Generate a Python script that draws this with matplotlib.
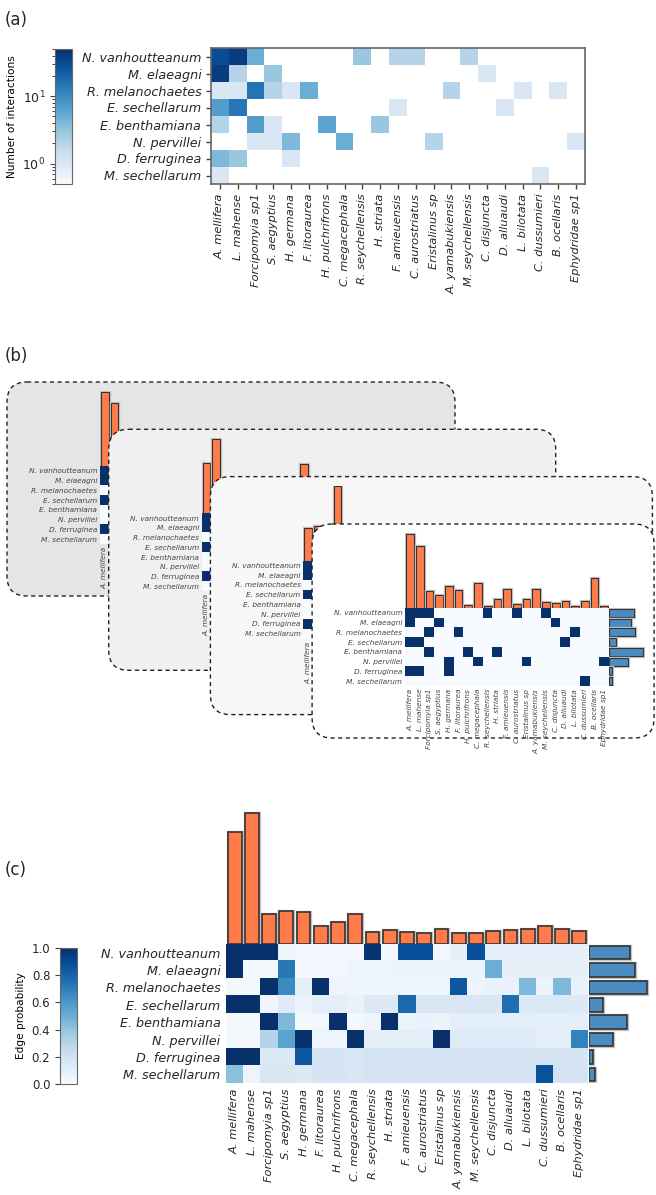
import numpy as np
import matplotlib
matplotlib.use("Agg")
import matplotlib.pyplot as plt
from matplotlib.colors import LogNorm, Normalize
from matplotlib.cm import ScalarMappable
from matplotlib.patches import FancyBboxPatch
import matplotlib.patheffects as pe

plants = ["N. vanhoutteanum", "M. elaeagni", "R. melanochaetes", "E. sechellarum",
          "E. benthamiana", "N. pervillei", "D. ferruginea", "M. sechellarum"]
pollinators = ["A. mellifera", "L. mahense", "Forcipomyia sp1", "S. aegyptius", "H. germana",
               "F. litoraurea", "H. pulchrifrons", "C. megacephala", "R. seychellensis", "H. striata",
               "F. amieuensis", "C. aurostriatus", "Eristalinus sp", "A. yamabukiensis",
               "M. seychellensis", "C. disjuncta", "D. alluaudi", "L. bilotata", "C. dussumieri",
               "B. ocellaris", "Ephydridae sp1"]

# (a) observed interaction counts (0 = no interaction)
counts = [
    [30, 40, 5, 0, 0, 0, 0, 0, 3, 0, 2, 2, 0, 0, 2, 0, 0, 0, 0, 0, 0],
    [40, 2, 0, 3, 0, 0, 0, 0, 0, 0, 0, 0, 0, 0, 0, 1, 0, 0, 0, 0, 0],
    [1, 1, 15, 2, 1, 5, 0, 0, 0, 0, 0, 0, 0, 2, 0, 0, 0, 1, 0, 1, 0],
    [7, 14, 0, 0, 0, 0, 0, 0, 0, 0, 1, 0, 0, 0, 0, 0, 1, 0, 0, 0, 0],
    [2, 0, 7, 1, 0, 0, 6, 0, 0, 3, 0, 0, 0, 0, 0, 0, 0, 0, 0, 0, 0],
    [0, 0, 1, 1, 4, 0, 0, 5, 0, 0, 0, 0, 2, 0, 0, 0, 0, 0, 0, 0, 1],
    [4, 3, 0, 0, 1, 0, 0, 0, 0, 0, 0, 0, 0, 0, 0, 0, 0, 0, 0, 0, 0],
    [1, 0, 0, 0, 0, 0, 0, 0, 0, 0, 0, 0, 0, 0, 0, 0, 0, 0, 1, 0, 0],
]

# (b) sampled networks: one adjacency shown in every card, bar heights per card
sample_adj = [
    [1, 1, 1, 0, 0, 0, 0, 0, 1, 0, 0, 1, 0, 0, 1, 0, 0, 0, 0, 0, 0],
    [1, 0, 0, 1, 0, 0, 0, 0, 0, 0, 0, 0, 0, 0, 0, 1, 0, 0, 0, 0, 0],
    [0, 0, 1, 0, 0, 1, 0, 0, 0, 0, 0, 0, 0, 0, 0, 0, 0, 1, 0, 0, 0],
    [1, 1, 0, 0, 0, 0, 0, 0, 0, 0, 0, 0, 0, 0, 0, 0, 1, 0, 0, 0, 0],
    [0, 0, 1, 0, 0, 0, 1, 0, 0, 1, 0, 0, 0, 0, 0, 0, 0, 0, 0, 0, 0],
    [0, 0, 0, 0, 1, 0, 0, 1, 0, 0, 0, 0, 1, 0, 0, 0, 0, 0, 0, 0, 1],
    [1, 1, 0, 0, 1, 0, 0, 0, 0, 0, 0, 0, 0, 0, 0, 0, 0, 0, 0, 0, 0],
    [0, 0, 0, 0, 0, 0, 0, 0, 0, 0, 0, 0, 0, 0, 0, 0, 0, 0, 1, 0, 0],
]
sample_top = [
    [74, 63, 20, 15, 24, 19, 6, 28, 8, 12, 30, 6, 10, 22, 9, 5, 8, 3, 9, 26, 4],
    [50, 74, 18, 14, 22, 17, 4, 27, 6, 10, 49, 5, 9, 20, 8, 6, 7, 2, 8, 28, 3],
    [33, 35, 12, 75, 20, 16, 3, 24, 4, 9, 22, 4, 8, 18, 6, 5, 6, 2, 7, 25, 2],
    [74, 61.7, 16.7, 12.7, 21.7, 18, 2.7, 25, 1.7, 8.7, 19.3, 3.7, 8.7, 19, 5.7, 4.7, 7, 1.7, 7.3, 30, 1.7],
]
sample_side = [25, 21.7, 26.3, 7.3, 34.3, 19.3, 3.3, 3.3]
card_fill = ["#e5e5e5", "#f0f0f0", "#f7f7f7", "#ffffff"]

# (c) posterior edge probability
prob = [
    [1.0, 1.0, 1.0, 0.05, 0.03, 0.03, 0.03, 0.03, 0.98, 0.03, 0.88, 0.88, 0.03, 0.08, 0.88, 0.10, 0.10, 0.09, 0.09, 0.09, 0.09],
    [1.0, 0.02, 0.02, 0.72, 0.03, 0.03, 0.03, 0.04, 0.05, 0.05, 0.06, 0.06, 0.06, 0.06, 0.06, 0.50, 0.08, 0.08, 0.08, 0.08, 0.08],
    [0.02, 0.02, 1.0, 0.65, 0.10, 1.0, 0.04, 0.04, 0.04, 0.04, 0.04, 0.04, 0.04, 0.85, 0.05, 0.07, 0.07, 0.45, 0.06, 0.45, 0.07],
    [1.0, 1.0, 0.04, 0.12, 0.06, 0.10, 0.10, 0.07, 0.13, 0.13, 0.78, 0.15, 0.15, 0.15, 0.15, 0.15, 0.76, 0.14, 0.14, 0.14, 0.14],
    [0.02, 0.02, 1.0, 0.45, 0.02, 0.03, 1.0, 0.02, 0.05, 1.0, 0.06, 0.07, 0.06, 0.10, 0.10, 0.10, 0.10, 0.10, 0.09, 0.09, 0.10],
    [0.02, 0.02, 0.30, 0.55, 1.0, 0.05, 0.05, 1.0, 0.08, 0.09, 0.10, 0.10, 1.0, 0.12, 0.12, 0.12, 0.12, 0.12, 0.10, 0.10, 0.68],
    [1.0, 1.0, 0.14, 0.14, 0.85, 0.17, 0.17, 0.16, 0.18, 0.18, 0.18, 0.18, 0.18, 0.18, 0.18, 0.18, 0.18, 0.18, 0.17, 0.17, 0.17],
    [0.42, 0.05, 0.15, 0.15, 0.13, 0.17, 0.17, 0.15, 0.18, 0.18, 0.18, 0.18, 0.18, 0.18, 0.18, 0.18, 0.18, 0.18, 0.87, 0.18, 0.18],
]
poll_strength = [11.2, 13.1, 3.0, 3.27, 3.17, 1.77, 2.17, 3.03, 1.2, 1.37, 1.23, 1.13, 1.47, 1.13,
                 1.13, 1.33, 1.4, 1.47, 1.83, 1.47, 1.3]
plant_strength = [4.1, 4.63, 5.83, 1.37, 3.77, 2.43, 0.43, 0.63]

ORANGE = "#ff7b4a"
BLUEBAR = "#4a8cc2"
TXT = "#262626"
plt.rcParams["font.family"] = "DejaVu Sans"
plt.rcParams["text.color"] = TXT
plt.rcParams["xtick.color"] = TXT
plt.rcParams["ytick.color"] = TXT

W, H = 656, 1195
fig = plt.figure(figsize=(W / 100, H / 100), dpi=100)


def add_ax(l, t, w, h, **kw):
    return fig.add_axes([l / W, 1 - (t + h) / H, w / W, h / H], **kw)


halo = [pe.Stroke(linewidth=2.4, foreground="#c4c4c4"), pe.Normal()]
nr, nc = len(plants), len(pollinators)

# ---------------- (a) ----------------
fig.text(5 / W, 1 - 20 / H, "(a)", fontsize=12, va="center")
ax = add_ax(211, 48, 374, 136)
norm_a = LogNorm(vmin=0.5, vmax=50)
ax.imshow(np.ma.masked_equal(np.array(counts, float), 0), cmap="Blues", norm=norm_a,
          aspect="auto", interpolation="nearest")
ax.set_xticks(range(nc))
ax.set_xticklabels(pollinators, rotation=90, fontsize=8.2, style="italic")
ax.set_yticks(range(nr))
ax.set_yticklabels(plants, fontsize=9.2, style="italic")
ax.tick_params(length=3.5, width=1, color="#444444")
for s in ax.spines.values():
    s.set_color("#666666")
    s.set_linewidth(1.2)

cax = add_ax(55, 49, 17, 135)
cb = fig.colorbar(ScalarMappable(norm=norm_a, cmap="Blues"), cax=cax)
cax.yaxis.set_ticks_position("left")
cax.yaxis.set_label_position("left")
cb.set_label("Number of interactions", fontsize=7.6)
cax.tick_params(labelsize=9, color="#444444")
cb.outline.set_edgecolor("#666666")

# ---------------- (b) ----------------
fig.text(5 / W, 1 - 356 / H, "(b)", fontsize=12, va="center")
card_boxes = [(7, 382, 448, 214), (108.7, 429.3, 447, 241), (210.4, 476.6, 442, 238),
              (312.1, 524, 342, 214)]
last = len(card_boxes) - 1
for k, (cx, cy, cw, ch) in enumerate(card_boxes):
    bg = add_ax(0, 0, W, H, zorder=10 * k + 10)
    bg.set_xlim(0, W)
    bg.set_ylim(H, 0)
    bg.axis("off")
    bg.patch.set_alpha(0)
    bg.add_patch(FancyBboxPatch((cx, cy), cw, ch, boxstyle="round,pad=0,rounding_size=20",
                                facecolor=card_fill[k], edgecolor="#222222", lw=1,
                                linestyle=(0, (3, 2.5))))

    hx, hy = cx + 93, cy + 84
    hm = add_ax(hx, hy, 204, 78, zorder=10 * k + 11)
    hm.imshow(np.array(sample_adj, float), cmap="Blues", vmin=0, vmax=1,
              aspect="auto", interpolation="nearest")
    # cards further back only show their first column label, the rest is covered
    shown = pollinators if k == last else pollinators[:1]
    hm.set_xticks(range(len(shown)))
    hm.set_xticklabels(shown, rotation=90, fontsize=5.3, style="italic", color="#444444")
    hm.set_yticks(range(nr))
    hm.set_yticklabels(plants, fontsize=5.3, style="italic", color="#444444")
    hm.set_xlim(-0.5, nc - 0.5)
    hm.tick_params(length=0, pad=2)
    for s in hm.spines.values():
        s.set_visible(False)

    tb = add_ax(hx, hy - 75, 204, 75, zorder=10 * k + 11)
    tb.patch.set_alpha(0)
    bars = tb.bar(range(nc), sample_top[k], width=0.8, color=ORANGE, edgecolor="#333333", lw=0.8)
    for b in bars:
        b.set_path_effects(halo)
    tb.set_xlim(-0.5, nc - 0.5)
    tb.set_ylim(0, 75)
    tb.axis("off")

    sb = add_ax(hx + 204, hy, 36, 78, zorder=10 * k + 11)
    sb.patch.set_alpha(0)
    bars = sb.barh(range(nr), sample_side, height=0.8, color=BLUEBAR, edgecolor="#333333", lw=0.8)
    for b in bars:
        b.set_path_effects(halo)
    sb.set_ylim(nr - 0.5, -0.5)
    sb.set_xlim(0, 36)
    sb.axis("off")

# ---------------- (c) ----------------
fig.text(5 / W, 1 - 870 / H, "(c)", fontsize=12, va="center")
axc = add_ax(226, 944, 362, 139)
axc.imshow(np.array(prob), cmap="Blues", vmin=0, vmax=1, aspect="auto", interpolation="nearest")
axc.set_xticks(range(nc))
axc.set_xticklabels(pollinators, rotation=90, fontsize=8.2, style="italic")
axc.set_yticks(range(nr))
axc.set_yticklabels(plants, fontsize=9.2, style="italic")
axc.tick_params(length=0, pad=4)
for s in axc.spines.values():
    s.set_visible(False)

tbc = add_ax(226, 810, 362, 134)
tbc.patch.set_alpha(0)
bars = tbc.bar(range(nc), poll_strength, width=0.8, color=ORANGE, edgecolor="#333333", lw=1.2)
for b in bars:
    b.set_path_effects(halo)
tbc.set_xlim(-0.5, nc - 0.5)
tbc.set_ylim(0, 13.4)
tbc.axis("off")

sbc = add_ax(589, 944, 67, 139)
sbc.patch.set_alpha(0)
bars = sbc.barh(range(nr), plant_strength, height=0.78, color=BLUEBAR, edgecolor="#333333", lw=1.2)
for b in bars:
    b.set_path_effects(halo)
sbc.set_ylim(nr - 0.5, -0.5)
sbc.set_xlim(0, 6.7)
sbc.axis("off")

cax2 = add_ax(60, 948, 17, 136)
cb2 = fig.colorbar(ScalarMappable(norm=Normalize(0, 1), cmap="Blues"), cax=cax2)
cax2.yaxis.set_ticks_position("left")
cax2.yaxis.set_label_position("left")
cb2.set_ticks([0, 0.2, 0.4, 0.6, 0.8, 1.0])
cb2.set_label("Edge probability", fontsize=7.6)
cax2.tick_params(labelsize=8.5, color="#444444")
cb2.outline.set_edgecolor("#666666")

fig.savefig("out.png", dpi=100)
